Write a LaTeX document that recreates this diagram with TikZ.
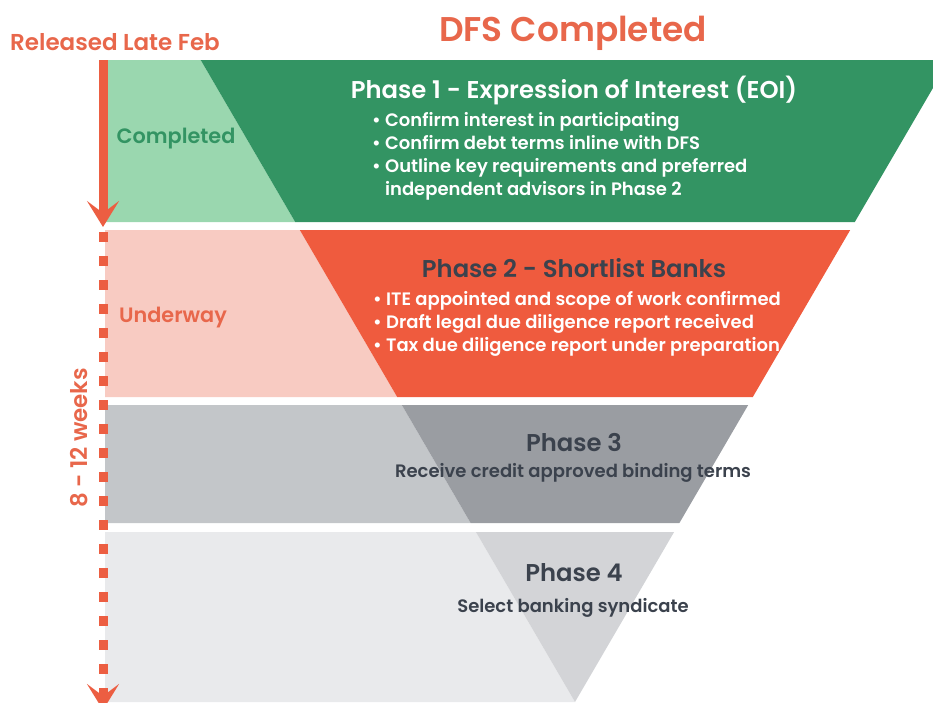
\documentclass[tikz,border=0pt]{standalone}
\usepackage{fontspec}
\setmainfont{Poppins}[BoldFont={Poppins SemiBold}]
\usetikzlibrary{arrows.meta,positioning}
\definecolor{greenlight}{HTML}{9AD7AF}
\definecolor{greendark}{HTML}{339463}
\definecolor{orangelight}{HTML}{F8CBC2}
\definecolor{orangedark}{HTML}{EF5B3E}
\definecolor{greylight}{HTML}{C3C6C9}
\definecolor{greydark}{HTML}{9A9DA2}
\definecolor{palelight}{HTML}{E9EAEC}
\definecolor{paledark}{HTML}{D3D4D7}
\definecolor{timeline}{HTML}{EC5E42}
\definecolor{labelorange}{HTML}{E8674B}
\definecolor{inkdark}{HTML}{3B424D}
\tikzset{
	phasetitle/.style={font=\bfseries\fontsize{24.3}{28}\selectfont},
	phaselist/.style={font=\bfseries\fontsize{18}{23}\selectfont, align=left, inner sep=0pt},
	statuslabel/.style={font=\bfseries\fontsize{20.8}{24}\selectfont},
	timelinelabel/.style={font=\bfseries\fontsize{23}{26}\selectfont, text=labelorange},
	timelinesolid/.style={line width=9pt, draw=timeline, -{Stealth[length=26pt,width=32pt,inset=12pt]}},
	timelinedashed/.style={timelinesolid, dash pattern=on 10pt off 14pt}
}
\begin{document}
\begin{tikzpicture}[x=1pt,y=-1pt]
	\useasboundingbox (0,0) rectangle (933,702);
	\begin{scope}
	\clip (0,0) rectangle (933,702);
	% status side of each band
	\fill[greenlight] (105,60) -- (200.7,60) -- (295.2,222) -- (105,222) -- cycle;
	\fill[orangelight] (105,230) -- (299.8,230) -- (397.2,397) -- (105,397) -- cycle;
	\fill[greylight] (105,405) -- (401.8,405) -- (470.6,523) -- (105,523) -- cycle;
	\fill[palelight] (105,532) -- (475.9,532) -- (575,702) -- (105,702) -- cycle;
	% funnel
	\fill[greendark] (200.7,60) -- (949.3,60) -- (854.8,222) -- (295.2,222) -- cycle;
	\fill[orangedark] (299.8,230) -- (850.2,230) -- (752.8,397) -- (397.2,397) -- cycle;
	\fill[greydark] (401.8,405) -- (748.2,405) -- (679.4,523) -- (470.6,523) -- cycle;
	\fill[paledark] (475.9,532) -- (674.1,532) -- (575,702) -- cycle;
	% timeline
	\coordinate (startsolid) at (103,60);
	\coordinate (endsolid) at (103,227);
	\coordinate (startdashed) at (103,232);
	\coordinate (enddashed) at (103,710);
	\draw[timelinesolid] (startsolid) -- (endsolid);
	\draw[timelinedashed] (startdashed) -- (enddashed);
	\end{scope}
	\node[timelinelabel] (released) at (115,42) {Released Late Feb};
	\node[font=\bfseries\fontsize{34.3}{38}\selectfont, text=labelorange] (dfs) at (573,33) {DFS Completed};
	\node[timelinelabel, rotate=90] (weeks) at (79,438) {8 - 12 weeks};
	\node[statuslabel, text=greendark] (completed) at (176,139) {Completed};
	\node[statuslabel, text=labelorange] (underway) at (173,318) {Underway};
	% phase texts
	\node[phasetitle, text=white] (phaseone) at (574,90) {Phase 1 - Expression of Interest (EOI)};
	\node[phaselist, text=white, anchor=north west] (phaseonelist) at (372,112) {• Confirm interest in participating\\
		• Confirm debt terms inline with DFS\\
		• Outline key requirements and preferred\\
		\phantom{• }independent advisors in Phase 2};
	\node[phasetitle, text=inkdark] (phasetwo) at (574,268) {Phase 2 - Shortlist Banks};
	\node[phaselist, text=white, anchor=north west] (phasetwolist) at (373,291) {• ITE appointed and scope of work confirmed\\
		• Draft legal due diligence report received\\
		• Tax due diligence report under preparation};
	\node[phasetitle, text=inkdark] (phasethree) at (574,443) {Phase 3};
	\node[phaselist, text=inkdark] (phasethreetext) at (573,473) {Receive credit approved binding terms};
	\node[phasetitle, text=inkdark] (phasefour) at (574,573) {Phase 4};
	\node[phaselist, text=inkdark] (phasefourtext) at (573,608) {Select banking syndicate};
\end{tikzpicture}
\end{document}
